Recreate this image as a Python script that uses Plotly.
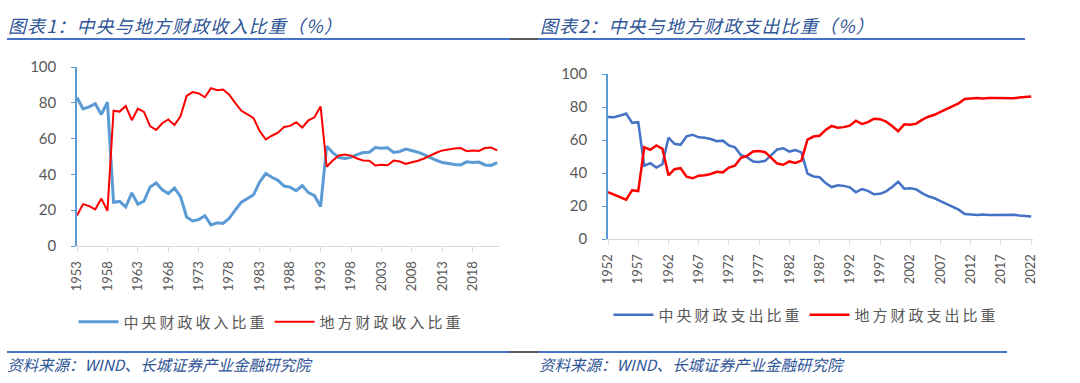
import plotly.graph_objects as go

# ---------------- data ----------------
years_rev = list(range(1953, 2023))
central_rev = [83.0, 76.6, 77.7, 79.5, 73.5, 80.4, 24.4, 24.9, 21.8, 29.7,
               23.3, 25.1, 33.0, 35.2, 31.4, 29.3, 32.4, 27.6, 16.2, 14.0,
               14.8, 16.9, 11.8, 13.0, 12.6, 15.5, 20.2, 24.5, 26.5, 28.6,
               35.8, 40.5, 38.4, 36.7, 33.5, 32.9, 30.9, 33.8, 29.8, 28.1,
               22.0, 55.7, 52.2, 49.4, 48.9, 49.5, 51.1, 52.2, 52.4, 55.0,
               54.6, 54.9, 52.3, 52.8, 54.1, 53.3, 52.4, 51.1, 49.4, 47.9,
               46.6, 45.9, 45.5, 45.3, 47.0, 46.6, 46.9, 45.3, 45.0, 46.6]
local_rev = [17.0, 23.4, 22.3, 20.5, 26.5, 19.6, 75.6, 75.1, 78.2, 70.3,
             76.7, 74.9, 67.0, 64.8, 68.6, 70.7, 67.6, 72.4, 83.8, 86.0,
             85.2, 83.1, 88.2, 87.0, 87.4, 84.5, 79.8, 75.5, 73.5, 71.4,
             64.2, 59.5, 61.6, 63.3, 66.5, 67.1, 69.1, 66.2, 70.2, 71.9,
             78.0, 44.3, 47.8, 50.6, 51.1, 50.5, 48.9, 47.8, 47.6, 45.0,
             45.4, 45.1, 47.7, 47.2, 45.9, 46.7, 47.6, 48.9, 50.6, 52.1,
             53.4, 54.1, 54.5, 54.7, 53.0, 53.4, 53.1, 54.7, 55.0, 53.4]

years_exp = list(range(1952, 2023))
central_exp = [74.0, 73.8, 74.8, 76.0, 70.4, 70.8, 44.4, 45.9, 43.3, 45.3,
               61.4, 57.7, 57.1, 62.2, 63.2, 61.6, 61.3, 60.6, 59.3, 59.6,
               56.7, 55.5, 50.8, 49.6, 46.9, 46.7, 47.4, 51.1, 54.3, 55.0,
               53.0, 53.9, 52.5, 39.7, 37.9, 37.4, 33.9, 31.5, 32.6, 32.2,
               31.3, 28.3, 30.3, 29.2, 27.1, 27.4, 28.9, 31.5, 34.7, 30.5,
               30.7, 30.1, 27.7, 25.9, 24.7, 23.0, 21.3, 20.0, 17.8, 15.1,
               14.9, 14.6, 14.9, 14.5, 14.6, 14.7, 14.8, 14.7, 14.3, 14.0,
               13.7]
local_exp = [28.4, 26.8, 25.3, 23.8, 29.6, 29.0, 55.6, 54.1, 56.7, 54.7,
             38.6, 42.3, 42.9, 37.8, 36.8, 38.4, 38.7, 39.4, 40.7, 40.4,
             43.3, 44.5, 49.2, 50.4, 53.1, 53.3, 52.6, 48.9, 45.7, 45.0,
             47.0, 46.1, 47.5, 60.3, 62.1, 62.6, 66.1, 68.5, 67.4, 67.8,
             68.7, 71.7, 69.7, 70.8, 72.9, 72.6, 71.1, 68.5, 65.3, 69.5,
             69.3, 69.9, 72.3, 74.1, 75.3, 77.0, 78.7, 80.0, 82.2, 84.9,
             85.1, 85.4, 85.1, 85.5, 85.4, 85.3, 85.2, 85.3, 85.7, 86.0,
             86.3]

ticks_rev = list(range(1953, 2019, 5))
ticks_exp = list(range(1952, 2023, 5))

title1 = "图表1：中央与地方财政收入比重（%）"
title2 = "图表2：中央与地方财政支出比重（%）"
source = "资料来源：WIND、长城证券产业金融研究院"
names_rev = ["中央财政收入比重", "地方财政收入比重"]
names_exp = ["中央财政支出比重", "地方财政支出比重"]

# ---------------- figure ----------------
W, H = 1080, 383
def px(x):
    return x / W
def py(y):
    return 1 - y / H

def spaced(s, sep="\u2009"):
    return sep.join(s)

CJK = "Noto Sans CJK SC"
NUM = "Lato, Noto Sans"
GREY = "#595959"
TITLE_BLUE = "#2F5597"

fig = go.Figure()
fig.add_trace(go.Scatter(x=years_rev, y=central_rev, name=spaced(names_rev[0]), mode="lines",
                         line=dict(color="#5B9BD5", width=3), xaxis="x", yaxis="y", legend="legend"))
fig.add_trace(go.Scatter(x=years_rev, y=local_rev, name=spaced(names_rev[1]), mode="lines",
                         line=dict(color="#FF0000", width=2), xaxis="x", yaxis="y", legend="legend"))
fig.add_trace(go.Scatter(x=years_exp, y=central_exp, name=spaced(names_exp[0]), mode="lines",
                         line=dict(color="#4472C4", width=2.5), xaxis="x2", yaxis="y2", legend="legend2"))
fig.add_trace(go.Scatter(x=years_exp, y=local_exp, name=spaced(names_exp[1]), mode="lines",
                         line=dict(color="#FF0000", width=2.5), xaxis="x2", yaxis="y2", legend="legend2"))

xcommon = dict(showgrid=False, zeroline=False, showline=True, linecolor="#D9D9D9", linewidth=1,
               ticks="outside", ticklen=5, tickcolor="#D9D9D9", tickangle=-90, automargin=False,
               ticklabelstandoff=4, tickfont=dict(family=NUM, size=13, color=GREY))
ycommon = dict(showgrid=False, zeroline=False, showline=True, linecolor="#5B9BD5", linewidth=1.5,
               ticks="outside", ticklen=4, tickcolor="#5B9BD5", range=[0, 100], dtick=20,
               automargin=False, ticklabelstandoff=12,
               tickfont=dict(family=NUM, size=15, color=GREY))

fig.update_layout(
    width=W, height=H, margin=dict(l=0, r=0, t=0, b=0, autoexpand=False),
    paper_bgcolor="white", plot_bgcolor="white",
    showlegend=True,
    xaxis=dict(domain=[px(77), px(499)], range=[1953, 2022.3], tickvals=ticks_rev,
               anchor="y", **xcommon),
    yaxis=dict(domain=[py(246), py(67)], anchor="x", **ycommon),
    xaxis2=dict(domain=[px(608), px(1033)], range=[1952, 2022.3], tickvals=ticks_exp,
                anchor="y2", **xcommon),
    yaxis2=dict(domain=[py(239), py(74)], anchor="x2", **ycommon),
    legend=dict(orientation="h", x=px(270), xanchor="center", y=py(322), yanchor="middle",
                font=dict(family=CJK, size=15, color=GREY), bgcolor="rgba(0,0,0,0)",
                itemwidth=40, tracegroupgap=0),
    legend2=dict(orientation="h", x=px(805), xanchor="center", y=py(315), yanchor="middle",
                 font=dict(family=CJK, size=15, color=GREY), bgcolor="rgba(0,0,0,0)",
                 itemwidth=40, tracegroupgap=0),
)

# titles and source
for txt, x0 in [(title1, 6), (title2, 538)]:
    fig.add_annotation(text=spaced(txt, "\u200a"), x=px(x0), y=py(25), xref="paper", yref="paper",
                       xanchor="left", yanchor="middle", showarrow=False,
                       font=dict(family=CJK, size=18, color=TITLE_BLUE, style="italic"))
for x0 in [5, 537]:
    fig.add_annotation(text=source, x=px(x0), y=py(364), xref="paper", yref="paper",
                       xanchor="left", yanchor="middle", showarrow=False,
                       font=dict(family=CJK, size=15.5, color=TITLE_BLUE, style="italic"))

# separator lines
def hline(x0, x1, y, color, w=2):
    fig.add_shape(type="line", xref="paper", yref="paper", x0=px(x0), x1=px(x1),
                  y0=py(y), y1=py(y), line=dict(color=color, width=w))

hline(7, 510, 39, "#4472C4")
hline(510, 538, 39, "#595959")
hline(538, 1025, 39, "#4472C4")
hline(7, 510, 352, "#4472C4")
hline(510, 538, 352, "#595959")
hline(538, 1007, 352, "#4472C4")

fig.write_html("out.html", config={"displayModeBar": False},
               post_script="document.body.style.margin='0';document.body.style.overflow='hidden';")
